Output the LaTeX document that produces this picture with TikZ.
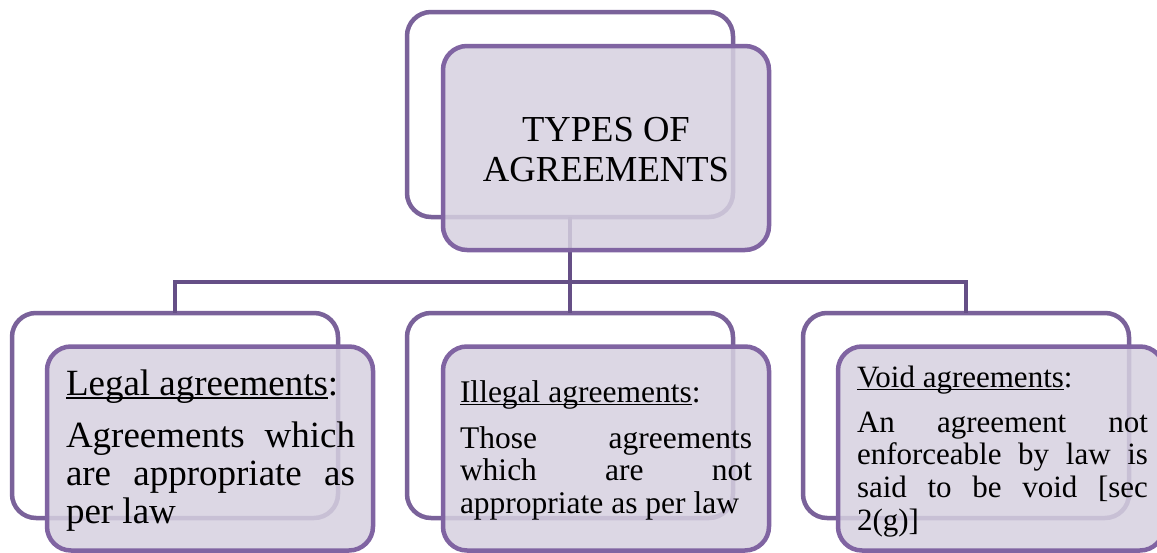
\documentclass[tikz,border=0pt]{standalone}
\usepackage{fontspec}
\setmainfont{Liberation Serif}
\definecolor{backline}{HTML}{7A629A}
\definecolor{frontline}{HTML}{8064A2}
\definecolor{frontfill}{HTML}{D6D1E0}
\definecolor{conn}{HTML}{654F86}
\newcommand\myul[1]{\setbox0\hbox{#1}\rlap{\rule[-0.1em]{\wd0}{0.05em}}\box0}
\newcommand\bodytext[3]{\parbox[t]{#1}{\tolerance=10000\hbadness=10000\hyphenpenalty=10000#2\selectfont #3}}
\begin{document}
\begin{tikzpicture}[x=0.5pt,y=-0.5pt,
  backbox/.style={draw=backline, line width=2.25pt, rounded corners=12pt,
    minimum width=163pt, minimum height=102.5pt, inner sep=0pt, outer sep=0pt, fill=white},
  frontbox/.style={draw=frontline, line width=2.25pt, rounded corners=12pt,
    minimum width=163pt, minimum height=102pt, inner sep=0pt, outer sep=0pt,
    fill=frontfill, fill opacity=0.85},
  link/.style={draw=conn, line width=2.25pt},
  txt/.style={inner sep=0pt, outer sep=0pt, anchor=base west, text=black},
]
\fill[white] (0,0) rectangle (1157,552);
\useasboundingbox (0,0) rectangle (1157,552);
% back boxes
\node[backbox] (tb) at (570,114.5) {};
\node[backbox] (lb) at (175,415.5) {};
\node[backbox] (mb) at (570,415.5) {};
\node[backbox] (rb) at (966,415.5) {};
% connectors
\coordinate (hub) at (570,282);
\draw[link] (tb.south) -- (hub);
\draw[link] (hub) -| (lb.north);
\draw[link] (hub) -- (mb.north);
\draw[link] (hub) -| (rb.north);
% front boxes
\node[frontbox] (tf) at (606,148) {};
\node[frontbox] (lf) at (210,448.5) {};
\node[frontbox] (mf) at (606,448.5) {};
\node[frontbox] (rf) at (1001,448.5) {};
% texts
\node[inner sep=0pt, outer sep=0pt, anchor=base] (tt) at (606,141)
  {\parbox[t]{160pt}{\centering\fontsize{18.3pt}{20pt}\selectfont TYPES OF\\AGREEMENTS}};
\node[txt] (lh) at (66,395) {\fontsize{18.5pt}{19pt}\selectfont\myul{Legal agreements}:};
\node[txt] (lt) at (66,447) {\bodytext{144.5pt}{\fontsize{18.5pt}{19pt}}{Agreements which\linebreak are appropriate as\linebreak per law}};
\node[txt] (mh) at (460,402) {\fontsize{15.75pt}{16.25pt}\selectfont\myul{Illegal agreements}:};
\node[txt] (mt) at (460,448) {\bodytext{146pt}{\fontsize{15.75pt}{16.25pt}}{Those agreements\linebreak which are not\linebreak appropriate as per law}};
\node[txt] (rh) at (857,387) {\fontsize{15.5pt}{16.35pt}\selectfont\myul{Void agreements}:};
\node[txt] (rt) at (857,432) {\bodytext{145.5pt}{\fontsize{15.5pt}{16.35pt}}{An agreement not\linebreak enforceable by law is\linebreak said to be void [sec\linebreak 2(g)]}};
\end{tikzpicture}
\end{document}
